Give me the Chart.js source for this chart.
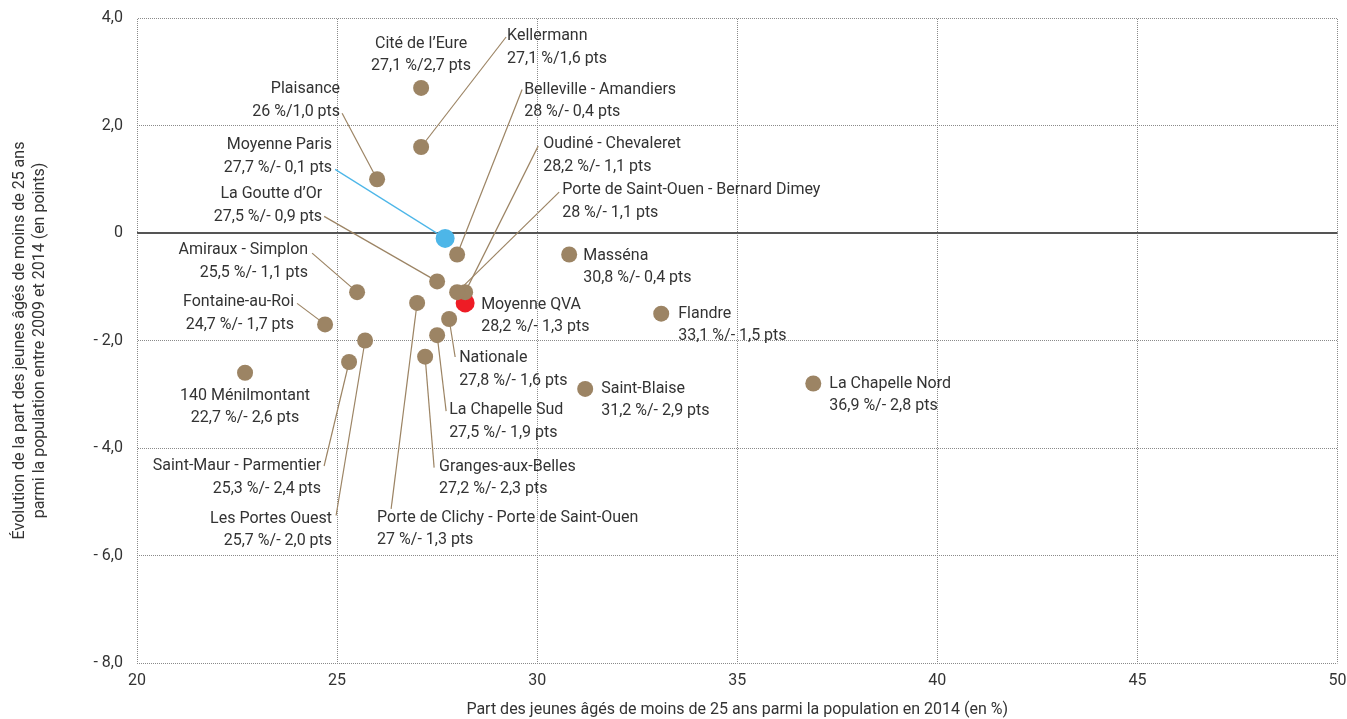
<!DOCTYPE html>
<html lang="fr">
<head>
<meta charset="utf-8">
<title>Jeunes de moins de 25 ans</title>
<script src="https://cdn.jsdelivr.net/npm/chart.js@4.4.1/dist/chart.umd.min.js"></script>
<style>
  html, body { margin: 0; padding: 0; background: #fff; }
  #wrap { width: 1347px; height: 719px; position: relative; }
</style>
</head>
<body>
<div id="wrap"><canvas id="scatter"></canvas></div>
<script>
const quartiers = [
  "Cité de l’Eure", "Kellermann", "Plaisance", "Belleville - Amandiers",
  "Oudiné - Chevaleret", "Porte de Saint-Ouen - Bernard Dimey", "Masséna",
  "La Goutte d’Or", "Amiraux - Simplon", "Porte de Clichy - Porte de Saint-Ouen",
  "Fontaine-au-Roi", "Nationale", "La Chapelle Sud", "Flandre", "Les Portes Ouest",
  "Saint-Maur - Parmentier", "Granges-aux-Belles", "140 Ménilmontant",
  "Saint-Blaise", "La Chapelle Nord"
];
const partJeunes2014 = [27.1, 27.1, 26, 28, 28.2, 28, 30.8, 27.5, 25.5, 27, 24.7, 27.8, 27.5, 33.1, 25.7, 25.3, 27.2, 22.7, 31.2, 36.9];
const evolution0914 = [2.7, 1.6, 1.0, -0.4, -1.1, -1.1, -0.4, -0.9, -1.1, -1.3, -1.7, -1.6, -1.9, -1.5, -2.0, -2.4, -2.3, -2.6, -2.9, -2.8];

const moyennes = ["Moyenne Paris", "Moyenne QVA"];
const moyennesPart = [27.7, 28.2];
const moyennesEvolution = [-0.1, -1.3];

const xTicks = [20, 25, 30, 35, 40, 45, 50];
const yTicks = [4, 2, 0, -2, -4, -6, -8];

const xTitle = "Part des jeunes âgés de moins de 25 ans parmi la population en 2014 (en %)";
const yTitle = ["Évolution de la part des jeunes âgés de moins de 25 ans", "parmi la population entre 2009 et 2014 (en points)"];

// where each label sits, in pixels from its point; lead = end of the leader line
const labelPlacement = {
  "Cité de l’Eure": { dx: 0, dy: -44, align: "center" },
  "Kellermann": { dx: 86, dy: -111, align: "left", lead: [85, -110] },
  "Plaisance": { dx: -37, dy: -90, align: "right", lead: [-35, -66] },
  "Moyenne Paris": { dx: -113, dy: -93, align: "right", lead: [-110, -69] },
  "Belleville - Amandiers": { dx: 67, dy: -165, align: "left", lead: [65, -165] },
  "Oudiné - Chevaleret": { dx: 78, dy: -148, align: "left", lead: [73, -146] },
  "Porte de Saint-Ouen - Bernard Dimey": { dx: 105, dy: -102, align: "left", lead: [102, -100] },
  "Masséna": { dx: 14, dy: 1, align: "left" },
  "La Goutte d’Or": { dx: -115, dy: -87, align: "right", lead: [-113, -65] },
  "Amiraux - Simplon": { dx: -49, dy: -42, align: "right", lead: [-45, -39] },
  "Porte de Clichy - Porte de Saint-Ouen": { dx: -40, dy: 215, align: "left", lead: [-26, 206] },
  "Moyenne QVA": { dx: 16, dy: 2, align: "left" },
  "Fontaine-au-Roi": { dx: -31, dy: -22, align: "right", lead: [-28, -21] },
  "Nationale": { dx: 10, dy: 39, align: "left", lead: [6, 38] },
  "La Chapelle Sud": { dx: 12, dy: 75, align: "left", lead: [9, 76] },
  "Flandre": { dx: 17, dy: 0, align: "left" },
  "Les Portes Ouest": { dx: -33, dy: 178, align: "right", lead: [-29, 175] },
  "Saint-Maur - Parmentier": { dx: -28, dy: 104, align: "right", lead: [-25, 104] },
  "Granges-aux-Belles": { dx: 14, dy: 110, align: "left", lead: [9, 111] },
  "140 Ménilmontant": { dx: 0, dy: 23, align: "center" },
  "Saint-Blaise": { dx: 16, dy: 0, align: "left" },
  "La Chapelle Nord": { dx: 16, dy: 0, align: "left" }
};

const brown = "#9c8464";
const blue = "#4db6e8";
const red = "#ee1c25";
const textColor = "#333333";

function fmtPart(v) {
  return Number.isInteger(v) ? String(v) : v.toFixed(1).replace(".", ",");
}
function fmtPts(v) {
  const s = Math.abs(v).toFixed(1).replace(".", ",");
  return v < 0 ? "- " + s : s;
}

const canvas = document.getElementById("scatter");
const ctx2d = canvas.getContext("2d");

// checkerboard tile -> dotted grid lines in both directions
const tile = document.createElement("canvas");
tile.width = 2;
tile.height = 2;
const tctx = tile.getContext("2d");
tctx.fillStyle = "#8a8a8a";
tctx.fillRect(0, 0, 1, 1);
tctx.fillRect(1, 1, 1, 1);
const dotted = ctx2d.createPattern(tile, "repeat");

// edge labels may overhang the plot, so drop the extra padding chart.js adds for them
function noEdgePadding(scale) {
  scale.paddingLeft = 0;
  scale.paddingRight = 0;
  scale.paddingTop = 0;
  scale.paddingBottom = 0;
}

const pointLabels = {
  id: "pointLabels",
  beforeDatasetsDraw(chart) {
    const ctx = chart.ctx;
    ctx.save();
    ctx.lineWidth = 1.2;
    chart.data.datasets.forEach((ds, di) => {
      chart.getDatasetMeta(di).data.forEach((pt, i) => {
        const p = labelPlacement[ds.names[i]];
        if (!p || !p.lead) return;
        ctx.strokeStyle = ds.names[i] === "Moyenne Paris" ? blue : brown;
        ctx.beginPath();
        ctx.moveTo(pt.x + p.lead[0], pt.y + p.lead[1]);
        ctx.lineTo(pt.x, pt.y);
        ctx.stroke();
      });
    });
    ctx.restore();
  },
  afterDatasetsDraw(chart) {
    const ctx = chart.ctx;
    ctx.save();
    ctx.font = "16px Roboto";
    ctx.fillStyle = textColor;
    ctx.textBaseline = "middle";
    chart.data.datasets.forEach((ds, di) => {
      chart.getDatasetMeta(di).data.forEach((pt, i) => {
        const name = ds.names[i];
        const p = labelPlacement[name];
        if (!p) return;
        const raw = ds.data[i];
        ctx.textAlign = p.align;
        ctx.fillText(name, pt.x + p.dx, pt.y + p.dy);
        ctx.fillText(fmtPart(raw.x) + " %/" + fmtPts(raw.y) + " pts", pt.x + p.dx, pt.y + p.dy + 22.5);
      });
    });
    ctx.restore();
  }
};

Chart.defaults.font.family = "Roboto";
Chart.defaults.font.size = 16;
Chart.defaults.color = textColor;

new Chart(canvas, {
  type: "scatter",
  data: {
    datasets: [
      {
        label: "Quartiers",
        names: quartiers,
        data: quartiers.map((q, i) => ({ x: partJeunes2014[i], y: evolution0914[i] })),
        backgroundColor: brown,
        borderWidth: 0,
        pointRadius: 8,
        pointHoverRadius: 8
      },
      {
        label: "Moyennes",
        names: moyennes,
        data: moyennes.map((m, i) => ({ x: moyennesPart[i], y: moyennesEvolution[i] })),
        backgroundColor: [blue, red],
        borderWidth: 0,
        pointRadius: 9.5,
        pointHoverRadius: 9.5
      }
    ]
  },
  options: {
    responsive: true,
    maintainAspectRatio: false,
    animation: false,
    events: [],
    layout: { padding: { top: 18, right: 9, left: 0, bottom: 0 } },
    plugins: {
      legend: { display: false },
      tooltip: { enabled: false }
    },
    scales: {
      x: {
        type: "linear",
        min: 20,
        max: 50,
        afterBuildTicks(scale) {
          scale.ticks = xTicks.map((v) => ({ value: v }));
        },
        afterFit(scale) {
          scale.height = 56;
          noEdgePadding(scale);
        },
        border: { display: false },
        grid: { color: dotted, lineWidth: 1, drawTicks: false },
        ticks: {
          padding: 8,
          maxRotation: 0,
          callback: (v) => String(v)
        },
        title: {
          display: true,
          text: xTitle,
          padding: { top: 0, bottom: -1 }
        }
      },
      y: {
        type: "linear",
        min: -8,
        max: 4,
        afterBuildTicks(scale) {
          scale.ticks = yTicks.map((v) => ({ value: v }));
        },
        afterFit(scale) {
          scale.width = 137;
          noEdgePadding(scale);
        },
        border: { display: false },
        grid: {
          drawTicks: false,
          color: (c) => (c.tick && c.tick.value === 0 ? "#555555" : dotted),
          lineWidth: (c) => (c.tick && c.tick.value === 0 ? 2 : 1)
        },
        ticks: {
          padding: 14,
          callback: (v) => {
            if (v === 0) return "0";
            const s = Math.abs(v).toFixed(1).replace(".", ",");
            return v < 0 ? "- " + s : s;
          }
        },
        title: {
          display: true,
          text: yTitle,
          font: { size: 16, lineHeight: 1.25 },
          padding: { top: 10, bottom: 0 }
        }
      }
    }
  },
  plugins: [pointLabels]
});
</script>
</body>
</html>
